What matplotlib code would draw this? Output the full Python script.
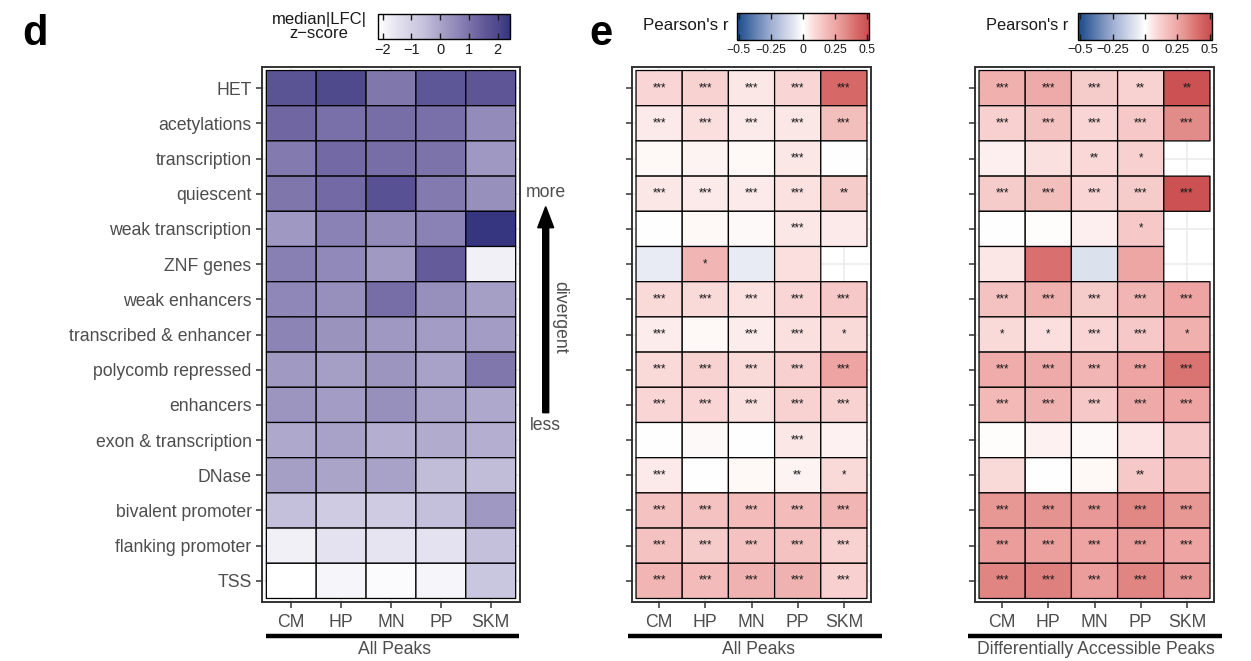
import numpy as np
import matplotlib
matplotlib.use("Agg")
import matplotlib.pyplot as plt
from matplotlib.colors import LinearSegmentedColormap, Normalize
from matplotlib.cm import ScalarMappable
from matplotlib.patches import FancyArrow
from matplotlib.lines import Line2D
from matplotlib.transforms import IdentityTransform

plt.rcParams['font.family'] = ['Liberation Sans', 'DejaVu Sans']

states = ['HET', 'acetylations', 'transcription', 'quiescent', 'weak transcription',
          'ZNF genes', 'weak enhancers', 'transcribed & enhancer', 'polycomb repressed',
          'enhancers', 'exon & transcription', 'DNase', 'bivalent promoter',
          'flanking promoter', 'TSS']
cell_types = ['CM', 'HP', 'MN', 'PP', 'SKM']

# panel d: median |LFC| z-score
d_zscore = [
    [1.70, 2.00, 0.90, 1.60, 1.65],
    [1.25, 1.05, 1.10, 1.05, 0.50],
    [0.85, 1.20, 1.10, 1.00, 0.25],
    [0.95, 1.20, 1.75, 0.85, 0.40],
    [0.25, 0.70, 0.50, 0.70, 2.40],
    [0.75, 0.55, 0.20, 1.50, -1.80],
    [0.60, 0.40, 1.10, 0.40, 0.10],
    [0.65, 0.35, 0.25, 0.15, 0.15],
    [0.20, 0.10, 0.30, 0.05, 0.90],
    [0.30, 0.15, 0.40, 0.05, -0.10],
    [-0.10, 0.05, -0.20, -0.15, -0.20],
    [0.10, 0.00, 0.05, -0.50, -0.50],
    [-0.55, -0.85, -0.85, -0.55, 0.25],
    [-1.80, -1.50, -1.55, -1.50, -0.55],
    [-2.15, -1.90, -2.05, -1.90, -0.70],
]

nan = np.nan
# panel e: Pearson's r, all peaks
e_r = [
    [0.10, 0.11, 0.06, 0.10, 0.42],
    [0.05, 0.08, 0.05, 0.06, 0.17],
    [0.02, 0.03, 0.02, 0.06, -0.003],
    [0.06, 0.05, 0.05, 0.07, 0.13],
    [0.00, 0.02, 0.015, 0.06, 0.05],
    [-0.06, 0.20, -0.06, 0.08, nan],
    [0.09, 0.09, 0.07, 0.10, 0.14],
    [0.045, 0.02, 0.045, 0.075, 0.09],
    [0.09, 0.11, 0.09, 0.12, 0.26],
    [0.10, 0.10, 0.075, 0.11, 0.11],
    [0.00, 0.015, 0.002, 0.06, 0.035],
    [0.05, 0.00, 0.02, 0.03, 0.09],
    [0.16, 0.16, 0.18, 0.18, 0.20],
    [0.16, 0.13, 0.16, 0.16, 0.11],
    [0.20, 0.18, 0.21, 0.21, 0.12],
]
e_stars = [
    ['***', '***', '***', '***', '***'],
    ['***', '***', '***', '***', '***'],
    ['', '', '', '***', ''],
    ['***', '***', '***', '***', '**'],
    ['', '', '', '***', ''],
    ['', '*', '', '', ''],
    ['***', '***', '***', '***', '***'],
    ['***', '', '***', '***', '*'],
    ['***', '***', '***', '***', '***'],
    ['***', '***', '***', '***', '***'],
    ['', '', '', '***', ''],
    ['***', '', '', '**', '*'],
    ['***', '***', '***', '***', '***'],
    ['***', '***', '***', '***', '***'],
    ['***', '***', '***', '***', '***'],
]

# panel f: Pearson's r, differentially accessible peaks
f_r = [
    [0.22, 0.24, 0.13, 0.11, 0.50],
    [0.12, 0.16, 0.10, 0.14, 0.33],
    [0.04, 0.075, 0.095, 0.12, nan],
    [0.13, 0.17, 0.10, 0.13, 0.50],
    [0.002, 0.005, 0.04, 0.14, nan],
    [0.06, 0.40, -0.09, 0.25, nan],
    [0.16, 0.22, 0.13, 0.20, 0.26],
    [0.09, 0.08, 0.10, 0.14, 0.22],
    [0.23, 0.24, 0.20, 0.26, 0.39],
    [0.19, 0.21, 0.14, 0.24, 0.26],
    [0.005, 0.035, 0.015, 0.065, 0.14],
    [0.09, 0.00, 0.02, 0.14, 0.18],
    [0.30, 0.31, 0.29, 0.34, 0.30],
    [0.28, 0.27, 0.26, 0.28, 0.26],
    [0.35, 0.36, 0.28, 0.35, 0.29],
]
f_stars = [
    ['***', '***', '***', '**', '**'],
    ['***', '***', '***', '***', '***'],
    ['', '', '**', '*', ''],
    ['***', '***', '***', '***', '***'],
    ['', '', '', '*', ''],
    ['', '', '', '', ''],
    ['***', '***', '***', '***', '***'],
    ['*', '*', '***', '***', '*'],
    ['***', '***', '***', '***', '***'],
    ['***', '***', '***', '***', '***'],
    ['', '', '', '', ''],
    ['', '', '', '**', ''],
    ['***', '***', '***', '***', '***'],
    ['***', '***', '***', '***', '***'],
    ['***', '***', '***', '***', '***'],
]

# colour scales
z_lim = (-2.15, 2.44)
z_nodes = [(-2.15, '#FFFFFF'), (-1.5, '#E4E2F0'), (-0.55, '#C4C0DB'), (0.1, '#A59FC6'),
           (0.7, '#8A82B4'), (1.2, '#7369A4'), (1.7, '#5A5394'), (2.0, '#4F4A8C'),
           (2.44, '#33337F')]
z_cmap = LinearSegmentedColormap.from_list(
    'zs', [((v - z_lim[0]) / (z_lim[1] - z_lim[0]), c) for v, c in z_nodes])
z_norm = Normalize(*z_lim)

r_lim = (-0.515, 0.515)
r_nodes = [(-0.515, '#1B4A8B'), (-0.25, '#9FAED2'), (-0.09, '#DCE1EE'), (0.0, '#FFFFFF'),
           (0.1, '#F9D6D5'), (0.2, '#F1B6B4'), (0.26, '#EDA4A2'), (0.33, '#E28D8A'),
           (0.4, '#D9706E'), (0.515, '#C94D50')]
r_cmap = LinearSegmentedColormap.from_list(
    'rs', [((v - r_lim[0]) / (r_lim[1] - r_lim[0]), c) for v, c in r_nodes])
r_cmap.set_bad((0, 0, 0, 0))
r_norm = Normalize(*r_lim)

W, H = 1251, 661
fig = plt.figure(figsize=(W / 100, H / 100), dpi=100)

GRAY = '#4D4D4D'
FS = 12.7


def fx(px):
    return px / W


def fy(py):
    return 1 - py / H


def heat(left, right, values, cmap, norm, stars=None, labels=True):
    ax = fig.add_axes([fx(left), fy(602), fx(right - left), 535 / H])
    data = np.ma.masked_invalid(np.array(values, dtype=float))
    xe = np.arange(len(cell_types) + 1) - 0.5
    ye = np.arange(len(states) + 1) - 0.5
    ax.pcolor(xe, ye, data, cmap=cmap, norm=norm, edgecolors='black',
              linewidth=0.9, zorder=2)
    if stars is not None:
        for i in range(len(states)):
            for j in range(len(cell_types)):
                if stars[i][j]:
                    ax.text(j, i, stars[i][j], ha='center', va='center',
                            fontsize=8.3, color='#1A1A1A', zorder=3)
    ex = 0.087
    ax.set_xlim(-0.5 - ex, len(cell_types) - 0.5 + ex)
    ax.set_ylim(len(states) - 0.5 + 0.1, -0.5 - 0.1)
    ax.set_xticks(range(len(cell_types)))
    ax.set_xticklabels(cell_types)
    ax.set_yticks(range(len(states)))
    ax.set_yticklabels(states if labels else [])
    ax.set_axisbelow(True)
    ax.grid(True, color='#EBEBEB', linewidth=1.1, zorder=0)
    for s in ax.spines.values():
        s.set_color('#333333')
        s.set_linewidth(1.4)
    ax.tick_params(colors='#333333', labelcolor=GRAY, labelsize=FS, length=4.5,
                   width=1.1, pad=3)
    ax.tick_params(axis='x', pad=4)
    return ax


heat(262, 520, d_zscore, z_cmap, z_norm)
heat(632, 871, e_r, r_cmap, r_norm, e_stars, labels=False)
heat(975, 1214, f_r, r_cmap, r_norm, f_stars, labels=False)


def cbar(left, right, top, bottom, cmap, norm, ticks, ticklabels, fs):
    cax = fig.add_axes([fx(left), fy(bottom), fx(right - left), (bottom - top) / H])
    cb = fig.colorbar(ScalarMappable(norm=norm, cmap=cmap), cax=cax,
                      orientation='horizontal')
    cb.set_ticks(ticks)
    cb.set_ticklabels(ticklabels)
    cb.outline.set_edgecolor('black')
    cb.outline.set_linewidth(1.0)
    cax.tick_params(direction='in', top=True, bottom=True, length=4, width=1,
                    color='#1A1A1A', labelsize=fs, labelcolor='#1A1A1A', pad=3)
    return cax


cbar(378.3, 510.2, 14, 39.3, z_cmap, z_norm, [-2, -1, 0, 1, 2],
     ['\u22122', '\u22121', '0', '1', '2'], 10.5)
r_ticks = [-0.5, -0.25, 0, 0.25, 0.5]
r_labels = ['\u22120.5', '\u22120.25', '0', '0.25', '0.5']
cbar(736.7, 869.3, 13.3, 40, r_cmap, r_norm, r_ticks, r_labels, 8.8)
cbar(1078.3, 1211.7, 13.3, 40, r_cmap, r_norm, r_ticks, r_labels, 9.4)

fig.text(fx(319), fy(26.5), 'median|LFC|\nz\u2212score', ha='center', va='center',
         fontsize=12, color='#1A1A1A', linespacing=0.95)
fig.text(fx(728.5), fy(26), "Pearson's r", ha='right', va='center', fontsize=12.2,
         color='#1A1A1A')
fig.text(fx(1068.5), fy(26), "Pearson's r", ha='right', va='center', fontsize=11.8,
         color='#1A1A1A')

# panel letters
fig.text(fx(22), fy(45), 'd', fontsize=30, fontweight='bold', va='baseline')
fig.text(fx(589), fy(45), 'e', fontsize=30, fontweight='bold', va='baseline')

# group bars and labels under the x axes
for x0, x1, xc, lab in [(266, 519, 395, 'All Peaks'),
                        (628, 882, 758, 'All Peaks'),
                        (968, 1222, 1096, 'Differentially Accessible Peaks')]:
    fig.add_artist(Line2D([fx(x0), fx(x1)], [fy(635.5), fy(635.5)], color='black',
                          linewidth=3.2, solid_capstyle='butt'))
    fig.text(fx(xc), fy(650), lab, ha='center', va='center', fontsize=FS, color=GRAY)

# divergence arrow
fig.add_artist(FancyArrow(545.7, H - 412.7, 0, 206, width=6, head_width=16,
                          head_length=21, length_includes_head=True, color='black',
                          transform=IdentityTransform()))
fig.text(fx(545.5), fy(192.5), 'more', ha='center', va='center', fontsize=FS, color=GRAY)
fig.text(fx(545.5), fy(426), 'less', ha='center', va='center', fontsize=FS, color=GRAY)
fig.text(fx(560), fy(317), 'divergent', ha='center', va='center', fontsize=FS,
         color=GRAY, rotation=-90)

fig.savefig('out.png', dpi=100)
